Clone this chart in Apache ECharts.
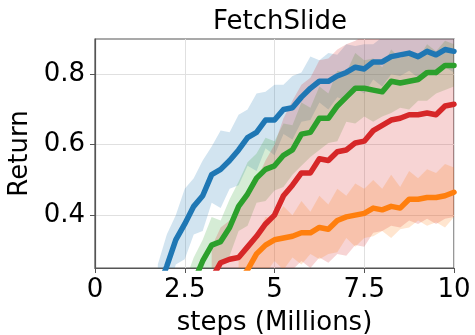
<!DOCTYPE html>
<html>
<head>
<meta charset="utf-8">
<script src="https://cdn.jsdelivr.net/npm/echarts@6/dist/echarts.min.js"></script>
<style>
html,body{margin:0;padding:0;background:#fff;}
#chart{width:475px;height:335px;}
</style>
</head>
<body>
<div id="chart"></div>
<script>
// x positions (millions of steps)
const steps = [1.75,2.0,2.25,2.5,2.75,3.0,3.25,3.5,3.75,4.0,4.25,4.5,4.75,5.0,5.25,5.5,5.75,6.0,6.25,6.5,6.75,7.0,7.25,7.5,7.75,8.0,8.25,8.5,8.75,9.0,9.25,9.5,9.75,10.0];

const blueMean = [0.19,0.255,0.33,0.375,0.425,0.455,0.515,0.53,0.555,0.585,0.62,0.635,0.67,0.67,0.70,0.705,0.735,0.76,0.78,0.78,0.795,0.805,0.82,0.815,0.835,0.835,0.85,0.855,0.86,0.85,0.865,0.855,0.87,0.865];
const blueHW   = [0.07,0.09,0.07,0.10,0.08,0.10,0.08,0.11,0.08,0.10,0.08,0.11,0.08,0.10,0.07,0.09,0.07,0.09,0.06,0.08,0.06,0.08,0.06,0.07,0.05,0.07,0.05,0.06,0.05,0.06,0.05,0.06,0.05,0.06];

const greenMean = [null,null,null,0.15,0.21,0.27,0.315,0.325,0.365,0.425,0.46,0.505,0.53,0.54,0.57,0.585,0.63,0.635,0.675,0.675,0.71,0.735,0.76,0.76,0.755,0.75,0.78,0.775,0.78,0.785,0.805,0.805,0.825,0.825];
const greenHW   = [null,null,null,0.06,0.07,0.06,0.08,0.06,0.08,0.07,0.09,0.07,0.09,0.07,0.09,0.07,0.09,0.07,0.09,0.07,0.10,0.07,0.10,0.08,0.09,0.07,0.09,0.07,0.08,0.06,0.08,0.06,0.07,0.06];

const redMean = [null,null,null,null,null,null,0.22,0.265,0.275,0.28,0.31,0.34,0.375,0.40,0.455,0.485,0.52,0.52,0.56,0.555,0.58,0.585,0.605,0.61,0.64,0.655,0.67,0.675,0.685,0.685,0.69,0.685,0.71,0.715];
const redHW   = [null,null,null,null,null,null,0.09,0.10,0.11,0.13,0.14,0.16,0.18,0.20,0.22,0.24,0.25,0.27,0.28,0.29,0.29,0.30,0.29,0.30,0.29,0.30,0.30,0.31,0.30,0.31,0.30,0.31,0.32,0.32];

const orangeMean = [null,null,null,null,null,null,null,null,null,0.21,0.245,0.29,0.315,0.33,0.335,0.34,0.35,0.35,0.365,0.36,0.385,0.395,0.40,0.405,0.42,0.415,0.425,0.42,0.445,0.445,0.45,0.45,0.455,0.465];
const orangeHW   = [null,null,null,null,null,null,null,null,null,0.06,0.07,0.05,0.08,0.06,0.09,0.06,0.09,0.06,0.09,0.07,0.09,0.06,0.09,0.07,0.08,0.06,0.09,0.06,0.08,0.06,0.08,0.07,0.09,0.07];

const xTicks = [0, 2.5, 5, 7.5, 10];
const yTicks = [0.4, 0.6, 0.8];

const colors = {blue:'#1f77b4', orange:'#ff7f0e', green:'#2ca02c', red:'#d62728'};
const FONT = 'DejaVu Sans';

function pts(arr){ return steps.map((x,i)=> [x, arr[i]==null ? null : arr[i]]); }

function bandSeries(name, mean, hw, color){
  return {
    type:'custom', name:name+'_band', silent:true, z:1,
    data:[[steps[0], mean.find(v=>v!=null)]],
    renderItem:function(params, api){
      const up = [], lo = [];
      for (let i = 0; i < steps.length; i++){
        if (mean[i] == null) continue;
        up.push(api.coord([steps[i], mean[i] + hw[i]]));
        lo.unshift(api.coord([steps[i], mean[i] - hw[i]]));
      }
      const cs = params.coordSys;
      return {
        type:'group',
        clipPath:{type:'rect', shape:{x:cs.x, y:cs.y, width:cs.width, height:cs.height}},
        children:[{type:'polygon', shape:{points:up.concat(lo)},
          style:{fill:color, opacity:0.2, stroke:null}}]
      };
    }
  };
}
function lineSeries(name, mean, color){
  return {type:'line', name:name, data:pts(mean), symbol:'none', silent:true,
    lineStyle:{color:color, width:5.5, join:'round', cap:'round'}, z:3};
}

const chart = echarts.init(document.getElementById('chart'), null, {renderer:'canvas'});
chart.setOption({
  animation:false,
  backgroundColor:'#fff',
  title:{text:'FetchSlide', left:275, top:4, textAlign:'center',
    textStyle:{fontFamily:FONT, fontSize:26, fontWeight:'normal', color:'#000'}},
  grid:{left:95, right:21, top:39, bottom:67, show:true, borderColor:'#555', borderWidth:1.2,
    backgroundColor:'transparent', containLabel:false, outerBoundsMode:'none'},
  xAxis:{type:'value', min:0, max:10, interval:2.5,
    name:'steps (Millions)', nameLocation:'middle', nameGap:42,
    nameTextStyle:{fontFamily:FONT, fontSize:26, color:'#000'},
    axisLine:{show:true, lineStyle:{color:'#555', width:1.2}},
    axisTick:{show:true, length:5, lineStyle:{color:'#555'}},
    axisLabel:{fontFamily:FONT, fontSize:26, color:'#000', margin:9,
      formatter:function(v){ return String(v); }},
    splitLine:{show:true, lineStyle:{color:'#e0e0e0', width:1}}
  },
  yAxis:{type:'value', min:0.25, max:0.9,
    name:'Return', nameLocation:'middle', nameGap:60, nameRotate:90,
    nameTextStyle:{fontFamily:FONT, fontSize:26, color:'#000'},
    axisLine:{show:true, lineStyle:{color:'#555', width:1.2}},
    axisTick:{show:true, length:5, lineStyle:{color:'#555'}, customValues:yTicks},
    axisLabel:{fontFamily:FONT, fontSize:26, color:'#000', margin:10, customValues:yTicks,
      formatter:function(v){ return v.toFixed(1); }},
    splitLine:{show:true, lineStyle:{color:'#e0e0e0', width:1}}
  },
  series:[
    bandSeries('blue', blueMean, blueHW, colors.blue),
    bandSeries('green', greenMean, greenHW, colors.green),
    bandSeries('red', redMean, redHW, colors.red),
    bandSeries('orange', orangeMean, orangeHW, colors.orange),
    lineSeries('blue', blueMean, colors.blue),
    lineSeries('orange', orangeMean, colors.orange),
    lineSeries('green', greenMean, colors.green),
    lineSeries('red', redMean, colors.red)
  ]
});
</script>
</body>
</html>
